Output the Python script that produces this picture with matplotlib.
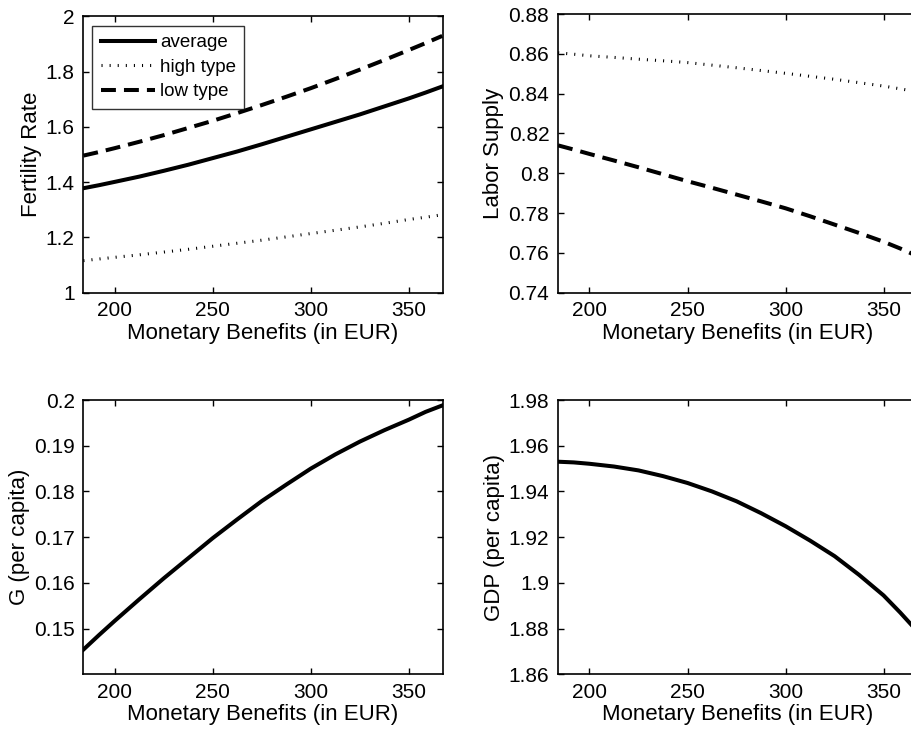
import numpy as np
import matplotlib
matplotlib.use("Agg")
import matplotlib.pyplot as plt
from matplotlib.ticker import StrMethodFormatter

plt.rcParams['font.family'] = ['Liberation Sans', 'DejaVu Sans']

# monetary benefits (EUR)
benefit = [184, 192, 200, 212.5, 225, 237.5, 250, 262.5, 275,
           287.5, 300, 312.5, 325, 337.5, 350, 358.5, 367]

# fertility rate
fert_avg = [1.378, 1.389, 1.401, 1.420, 1.441, 1.463, 1.487, 1.511, 1.537,
            1.564, 1.591, 1.618, 1.645, 1.674, 1.703, 1.724, 1.746]
fert_high = [1.116, 1.122, 1.128, 1.137, 1.147, 1.157, 1.168, 1.179, 1.190,
             1.202, 1.214, 1.226, 1.238, 1.251, 1.265, 1.273, 1.282]
fert_low = [1.496, 1.509, 1.523, 1.546, 1.570, 1.596, 1.622, 1.650, 1.679,
            1.709, 1.740, 1.773, 1.807, 1.842, 1.878, 1.903, 1.929]

# labor supply
lab_high = [0.8605, 0.8598, 0.8590, 0.8582, 0.8573, 0.8565, 0.8556, 0.8543, 0.8530,
            0.8516, 0.8502, 0.8487, 0.8472, 0.8455, 0.8438, 0.8424, 0.8410]
lab_low = [0.8140, 0.8119, 0.8097, 0.8064, 0.8030, 0.7995, 0.7960, 0.7927, 0.7893,
           0.7859, 0.7824, 0.7784, 0.7742, 0.7700, 0.7656, 0.7622, 0.7585]

# government spending and output per capita
g_pc = [0.1454, 0.1486, 0.1517, 0.1564, 0.1610, 0.1654, 0.1698, 0.1739, 0.1779,
        0.1815, 0.1850, 0.1881, 0.1909, 0.1934, 0.1957, 0.1974, 0.1988]
gdp_pc = [1.9530, 1.9527, 1.9521, 1.9509, 1.9492, 1.9467, 1.9437, 1.9400, 1.9357,
          1.9305, 1.9248, 1.9185, 1.9117, 1.9035, 1.8945, 1.8870, 1.8790]

xticks = [200, 250, 300, 350]
xlabel = 'Monetary Benefits (in EUR)'

W, H = 912, 729
fig = plt.figure(figsize=(W / 100, H / 100), dpi=100)


def px_axes(left, top, right, bottom):
    return fig.add_axes([left / W, 1 - bottom / H, (right - left) / W, (bottom - top) / H])


solid = dict(color='black', lw=2.9, linestyle='-')
dotted = dict(color='black', lw=2.2, linestyle=(0, (0.35, 2.3)))
dashed = dict(color='black', lw=2.9, linestyle=(0, (3.7, 2.0)))


def style(ax, ylim, yticks, ylabel):
    ax.set_xlim(183.8, 367.4)
    ax.set_ylim(*ylim)
    ax.set_xticks(xticks)
    ax.set_yticks(yticks)
    ax.yaxis.set_major_formatter(StrMethodFormatter('{x:g}'))
    ax.tick_params(direction='in', length=4.5, width=1, top=True, right=True,
                   labelsize=15, pad=6)
    for s in ax.spines.values():
        s.set_linewidth(1.2)
    ax.set_xlabel(xlabel, fontsize=16, labelpad=2)
    ax.set_ylabel(ylabel, fontsize=16, labelpad=3)


ax1 = px_axes(83, 16.3, 443, 292.7)
ax1.plot(benefit, fert_avg, label='average', **solid)
ax1.plot(benefit, fert_high, label='high type', **dotted)
ax1.plot(benefit, fert_low, label='low type', **dashed)
style(ax1, (1, 2), np.arange(1, 2.01, 0.2), 'Fertility Rate')
leg = ax1.legend(loc='upper left', fontsize=13.5, frameon=True, fancybox=False,
                 edgecolor='black', handlelength=2.9, handletextpad=0.25,
                 borderpad=0.45, labelspacing=0.4, borderaxespad=0.5)
leg.get_frame().set_linewidth(1.0)

ax2 = px_axes(557.7, 14, 917.7, 292.7)
ax2.plot(benefit, lab_high, **dotted)
ax2.plot(benefit, lab_low, **dashed)
style(ax2, (0.74, 0.88), np.arange(0.74, 0.881, 0.02), 'Labor Supply')

ax3 = px_axes(83, 400, 443, 674.3)
ax3.plot(benefit, g_pc, **solid)
style(ax3, (0.14, 0.2), np.arange(0.15, 0.201, 0.01), 'G (per capita)')

ax4 = px_axes(557.7, 400, 917.7, 674.3)
ax4.plot(benefit, gdp_pc, **solid)
style(ax4, (1.86, 1.98), np.arange(1.86, 1.981, 0.02), 'GDP (per capita)')

fig.savefig('out.png', dpi=100)
